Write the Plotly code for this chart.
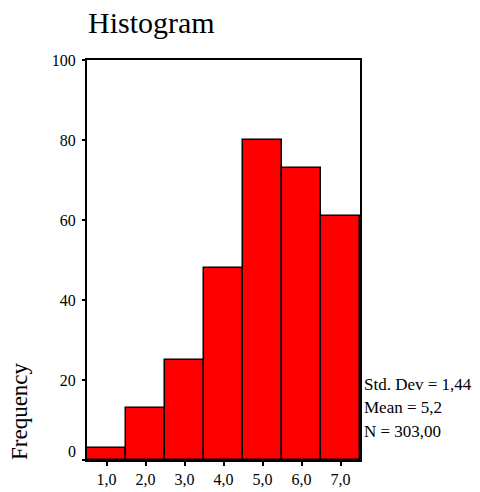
import plotly.graph_objects as go

categories = [1, 2, 3, 4, 5, 6, 7]
tick_labels = ["1,0", "2,0", "3,0", "4,0", "5,0", "6,0", "7,0"]
frequencies = [3, 13, 25, 48, 80, 73, 61]
y_ticks = [0, 20, 40, 60, 80, 100]
y_tick_labels = ["0", "20", "40", "60", "80", "100"]
stats_lines = ["Std. Dev = 1,44", "Mean = 5,2", "N = 303,00"]

W, H = 480, 492
PL, PR, PT, PB = 87, 360, 60, 460  # plot area in page pixels
L, R, T, B = PL, W - PR, PT, H - PB
FONT = "Liberation Serif"

fig = go.Figure()
fig.add_trace(go.Bar(
    x=categories, y=frequencies, width=1.0,
    marker=dict(color="#ff0000", line=dict(color="black", width=1.5)),
))

pw = PR - PL
ph = PB - PT

def px_x(x):
    return (x - PL) / pw

def px_y(y):
    return (PB - y) / ph

annotations = [
    dict(text="Histogram", x=px_x(86), y=px_y(22), xref="paper", yref="paper",
         xanchor="left", yanchor="middle", showarrow=False,
         font=dict(family=FONT, size=30, color="black")),
    dict(text="Frequency", x=px_x(19), y=px_y(411), xref="paper", yref="paper",
         xanchor="center", yanchor="middle", showarrow=False, textangle=-90,
         font=dict(family=FONT, size=23, color="black")),
    # the "0" label of the y axis sits a little above its tick, as in the reference
    dict(text=y_tick_labels[0], x=px_x(78), y=px_y(451), xref="paper", yref="paper",
         xanchor="right", yanchor="middle", showarrow=False,
         font=dict(family=FONT, size=16, color="black")),
]
for i, s in enumerate(stats_lines):
    annotations.append(dict(text=s, x=px_x(362), y=px_y(384 + 23.5 * i), xref="paper", yref="paper",
                            xanchor="left", yanchor="middle", showarrow=False,
                            font=dict(family=FONT, size=17, color="black")))

fig.update_layout(
    width=W, height=H,
    margin=dict(l=L, r=R, t=T, b=B, pad=0, autoexpand=False),
    paper_bgcolor="white", plot_bgcolor="white",
    showlegend=False,
    bargap=0,
    annotations=annotations,
    font=dict(family=FONT, size=16, color="black"),
    xaxis=dict(range=[0.5, 7.5], tickvals=categories, ticktext=tick_labels,
               showgrid=False, zeroline=False, showline=True, mirror=True,
               automargin=False,
               linecolor="black", linewidth=2, ticks="outside", ticklen=4,
               tickwidth=2, tickcolor="black",
               tickfont=dict(family=FONT, size=16, color="black")),
    yaxis=dict(range=[0, 100], tickvals=y_ticks, ticktext=[""] + y_tick_labels[1:],
               showgrid=False, zeroline=False, showline=True, mirror=True,
               automargin=False, ticklabelstandoff=3,
               linecolor="black", linewidth=2, ticks="outside", ticklen=3,
               tickwidth=2, tickcolor="black",
               tickfont=dict(family=FONT, size=16, color="black")),
)

fig.write_html("out.html", config={"displayModeBar": False},
               post_script="document.body.style.margin='0';")
